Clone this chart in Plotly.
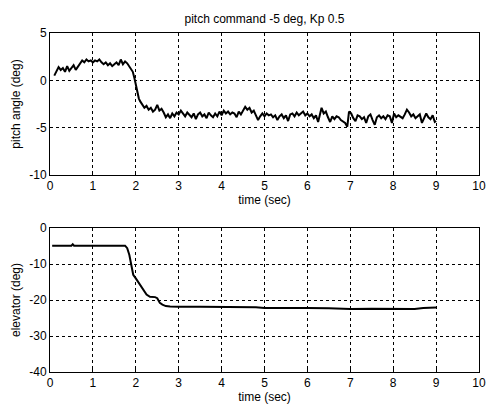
import plotly.graph_objects as go
from plotly.subplots import make_subplots

# ---- data ----
pitch_t = [0.1, 0.15, 0.2, 0.25, 0.3, 0.35, 0.4, 0.45, 0.5, 0.55, 0.6, 0.65, 0.7, 0.75, 0.8, 0.85, 0.9, 0.95,
           1.0, 1.05, 1.1, 1.15, 1.2, 1.25, 1.3, 1.35, 1.4, 1.45, 1.5, 1.55, 1.6, 1.65, 1.7, 1.75, 1.8, 1.85,
           1.9, 1.93, 1.97, 2.0, 2.03, 2.07, 2.1, 2.15, 2.2, 2.25, 2.3, 2.35, 2.4, 2.45, 2.5, 2.55, 2.6, 2.65,
           2.7, 2.75, 2.8, 2.85, 2.9, 2.95, 3.0, 3.05, 3.1, 3.15, 3.2, 3.25, 3.3, 3.35, 3.4, 3.45, 3.5, 3.55,
           3.6, 3.65, 3.7, 3.75, 3.8, 3.85, 3.9, 3.95, 4.0, 4.05, 4.1, 4.15, 4.2, 4.25, 4.3, 4.35, 4.4, 4.45,
           4.5, 4.55, 4.6, 4.65, 4.7, 4.75, 4.8, 4.85, 4.9, 4.95, 5.0, 5.05, 5.1, 5.15, 5.2, 5.25, 5.3, 5.35,
           5.4, 5.45, 5.5, 5.55, 5.6, 5.65, 5.7, 5.75, 5.8, 5.85, 5.9, 5.95, 6.0, 6.05, 6.1, 6.15, 6.2, 6.25,
           6.3, 6.33, 6.38, 6.43, 6.48, 6.53, 6.58, 6.63, 6.68, 6.73, 6.78, 6.83, 6.88, 6.93, 6.97, 7.02, 7.07,
           7.12, 7.17, 7.22, 7.27, 7.32, 7.37, 7.42, 7.47, 7.52, 7.57, 7.62, 7.67, 7.72, 7.77, 7.82, 7.87, 7.92,
           7.97, 8.02, 8.07, 8.12, 8.17, 8.22, 8.27, 8.32, 8.37, 8.42, 8.47, 8.52, 8.57, 8.62, 8.67, 8.72, 8.77,
           8.82, 8.87, 8.92, 8.97, 9.0]
pitch_deg = [0.5, 1.0, 1.4, 1.1, 1.3, 0.9, 1.5, 1.0, 1.3, 1.6, 1.1, 1.4, 1.8, 2.1, 1.9, 2.2, 2.0, 2.1,
             1.9, 2.1, 2.0, 2.2, 1.9, 1.7, 1.9, 1.6, 1.8, 1.5, 1.7, 1.9, 1.6, 2.2, 1.7, 2.0, 1.8, 1.5,
             1.2, 0.9, 0.2, -0.5, -1.2, -1.9, -2.2, -2.5, -2.9, -2.7, -3.1, -2.9, -3.3, -3.1, -2.6, -3.2, -3.0, -3.4,
             -3.9, -3.6, -4.0, -3.5, -3.8, -3.4, -3.6, -3.2, -3.5, -3.8, -3.4, -3.7, -3.9, -3.5, -4.1, -3.6, -3.4, -3.8,
             -3.6, -4.0, -3.4, -3.7, -3.9, -3.5, -3.8, -3.3, -3.7, -3.2, -3.5, -3.3, -3.6, -3.4, -3.5, -3.9, -3.3, -3.6,
             -3.2, -2.8, -3.1, -2.9, -3.4, -3.2, -3.7, -4.2, -3.8, -3.5, -3.8, -3.5, -3.7, -3.6, -3.9, -3.7, -4.2, -3.8,
             -3.6, -4.0, -3.7, -4.3, -3.6, -3.5, -3.8, -3.4, -3.7, -3.5, -3.3, -3.7, -3.5, -3.8, -3.6, -4.0, -3.7, -4.4,
             -3.4, -2.9, -3.5, -3.3, -3.9, -4.4, -3.8, -4.1, -3.8, -3.9, -4.2, -4.4, -4.5, -4.9, -3.3, -3.5, -4.0,
             -4.3, -3.7, -3.8, -4.1, -3.9, -4.5, -3.8, -3.6, -4.2, -4.7, -3.9, -3.7, -4.0, -3.8, -4.1, -3.7, -3.8,
             -4.5, -3.5, -3.9, -3.7, -3.9, -4.0, -3.6, -3.1, -3.4, -3.8, -3.6, -4.0, -3.8, -3.6, -4.5, -3.9, -3.5,
             -3.9, -4.1, -3.7, -4.4, -4.3]

elev_t = [0.05, 0.5, 0.53, 0.56, 1.75, 1.8, 1.85, 1.9, 1.94, 2.0, 2.06, 2.12, 2.18, 2.25, 2.33, 2.45, 2.5,
          2.56, 2.62, 2.7, 2.8, 3.0, 3.5, 4.0, 4.5, 4.8, 5.0, 5.5, 6.0, 6.5, 7.0, 7.5, 8.0, 8.5, 8.7, 9.0]
elev_deg = [-4.9, -4.9, -4.5, -4.9, -4.9, -5.6, -7.5, -10.5, -13.0, -14.0, -15.0, -16.0, -17.0, -18.5, -19.1,
            -19.2, -19.5, -20.8, -21.3, -21.7, -21.8, -21.9, -21.9, -21.9, -21.9, -22.0, -22.2, -22.1, -22.2,
            -22.3, -22.5, -22.4, -22.5, -22.5, -22.2, -22.1]

x_ticks = [0, 1, 2, 3, 4, 5, 6, 7, 8, 9, 10]
x_ticktext = ["0", "1", "2", "3", "4", "5", "6", "7", "8", "9", "10"]
pitch_ticks = [-10, -5, 0, 5]
pitch_ticktext = ["-10", "-5", "0", "5"]
elev_ticks = [-40, -30, -20, -10, 0]
elev_ticktext = ["-40", "-30", "-20", "-10", "0"]

title_text = "pitch command -5 deg, Kp 0.5"
xlabel = "time (sec)"
pitch_label = "pitch angle (deg)"
elev_label = "elevator (deg)"

W, H = 487, 406
ML, MR, MT, MB = 50, 8, 33, 34

fig = make_subplots(rows=2, cols=1, vertical_spacing=0.0)
fig.add_trace(go.Scatter(x=pitch_t, y=pitch_deg, mode="lines",
                         line=dict(color="black", width=2), showlegend=False), row=1, col=1)
fig.add_trace(go.Scatter(x=elev_t, y=elev_deg, mode="lines",
                         line=dict(color="black", width=2), showlegend=False), row=2, col=1)

font = dict(family="Liberation Sans, Arial, sans-serif", size=12, color="black")
axcommon = dict(showline=True, linecolor="black", linewidth=1, mirror="ticks",
                ticks="inside", ticklen=3, tickcolor="black",
                showgrid=True, gridcolor="black", gridwidth=1, griddash="3px,3px",
                zeroline=False, tickfont=font, automargin=False)

fig.update_layout(
    width=W, height=H,
    margin=dict(l=ML, r=MR, t=MT, b=MB),
    paper_bgcolor="white", plot_bgcolor="white",
    font=font,
    title=dict(text=title_text, x=(ML + (W - MR)) / 2 / W, xanchor="center",
               y=1 - 19 / H, yanchor="middle", yref="container",
               font=dict(family="Liberation Sans, Arial, sans-serif", size=12, color="black")),
    xaxis=dict(domain=[0, 1], range=[0, 10], tickvals=x_ticks, ticktext=x_ticktext,
               title=dict(text=xlabel, standoff=0, font=font), **axcommon),
    yaxis=dict(domain=[197 / 339, 1], range=[-10, 5], tickvals=pitch_ticks, ticktext=pitch_ticktext,
               title=dict(text=pitch_label, standoff=6, font=font), **axcommon),
    xaxis2=dict(domain=[0, 1], range=[0, 10], tickvals=x_ticks, ticktext=x_ticktext,
                title=dict(text=xlabel, standoff=0, font=font), **axcommon),
    yaxis2=dict(domain=[0, 144 / 339], range=[-40, 0], tickvals=elev_ticks, ticktext=elev_ticktext,
                title=dict(text=elev_label, standoff=6, font=font), **axcommon),
)

fig.write_html("out.html", config={"displayModeBar": False},
               post_script="document.body.style.margin='0';document.body.style.overflow='hidden';")
